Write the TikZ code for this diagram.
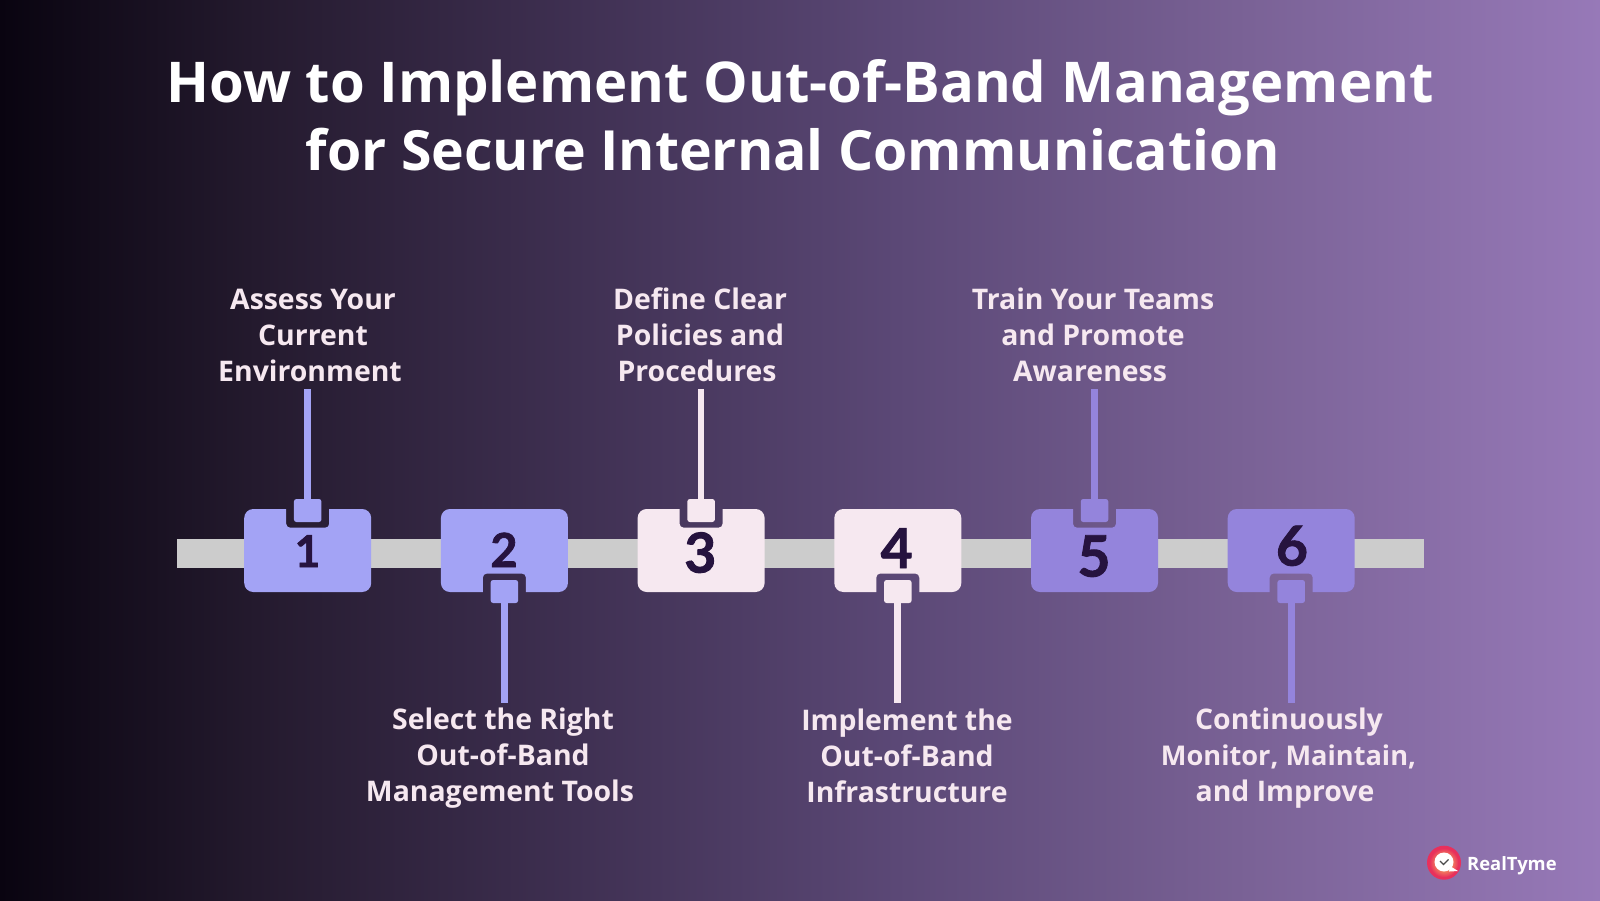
\documentclass[tikz,border=0pt]{standalone}
\usepackage{fontspec}
\setmainfont{Open Sans}
\newfontfamily\digitfont[BoldFeatures={FakeBold=1.6}]{Lato}
\usetikzlibrary{calc}
\definecolor{inkc}{HTML}{26133F}
\definecolor{barc}{HTML}{CCCCCC}
\definecolor{ca}{HTML}{A3A3F5}
\definecolor{cb}{HTML}{F6E8F0}
\definecolor{cc}{HTML}{9484DC}
\definecolor{logor}{HTML}{E8305C}
\definecolor{logoy}{HTML}{FFE060}
\definecolor{bg0}{HTML}{090410}
\definecolor{bg1}{HTML}{241A2E}
\definecolor{bg2}{HTML}{3F3052}
\definecolor{bg3}{HTML}{5B4876}
\definecolor{bg4}{HTML}{7A6296}
\definecolor{bg5}{HTML}{9779B8}
\pgfdeclarehorizontalshading{bgshade}{100bp}{color(0bp)=(bg0);color(25bp)=(bg0);color(33bp)=(bg1);color(43bp)=(bg2);color(53bp)=(bg3);color(64bp)=(bg4);color(75bp)=(bg5);color(100bp)=(bg5)}
\tikzset{
  titletext/.style={font=\bfseries\fontsize{56.2}{69}\selectfont,text=white,align=center,inner sep=0pt},
  labeltext/.style={font=\bfseries\fontsize{28.4}{36}\selectfont,text=cb,align=center,inner sep=0pt},
  digit/.style={text=inkc,inner sep=0pt,anchor=base},
  tag/.style={rectangle,rounded corners=2.5pt,minimum width=27.5pt,minimum height=23pt,inner sep=0pt},
  conn/.style={line width=6.7pt},
  bar/.style={fill=barc},
}
\newcommand{\digitsize}[1]{\digitfont\bfseries\fontsize{#1}{#1}\selectfont}
% #1 centre x, #2 colour
\newcommand{\boxnotchtop}[2]{%
  \fill[#2,rounded corners=9pt] (#1-63.5,550) -- (#1-63.5,509) [sharp corners] -- (#1-21.5,509)
   [rounded corners=4pt] -- (#1-21.5,527.7) -- (#1+21.5,527.7) [sharp corners] -- (#1+21.5,509)
   [rounded corners=9pt] -- (#1+63.5,509) -- (#1+63.5,592) -- (#1-63.5,592) -- cycle;}
\newcommand{\boxnotchbot}[2]{%
  \fill[#2,rounded corners=9pt] (#1-63.5,550) -- (#1-63.5,509) -- (#1+63.5,509) -- (#1+63.5,592) [sharp corners] -- (#1+21.5,592)
   [rounded corners=4pt] -- (#1+21.5,573.5) -- (#1-21.5,573.5) [sharp corners] -- (#1-21.5,592)
   [rounded corners=9pt] -- (#1-63.5,592) -- cycle;}
\begin{document}
\begin{tikzpicture}[x=1pt,y=-1pt]
\useasboundingbox (0,0) rectangle (1600,900);
\shade[shading=bgshade] (0,0) rectangle (1600,900);

\node[titletext,anchor=base] (t1) at (800,102) {How to Implement Out-of-Band Management};
\node[titletext,anchor=base,font=\bfseries\fontsize{55.4}{69}\selectfont] (t2) at (793,170) {for Secure Internal Communication};

\fill[bar] (176.7,539) rectangle (1424,567.5);

% boxes
\boxnotchtop{307.7}{ca}
\boxnotchbot{504.4}{ca}
\boxnotchtop{701.1}{cb}
\boxnotchbot{897.8}{cb}
\boxnotchtop{1094.5}{cc}
\boxnotchbot{1291.2}{cc}

% numbers
\node[digit,font=\digitsize{44}] (n1) at (307.5,567) {1};
\node[digit,font=\digitsize{47}] (n2) at (504,567) {2};
\node[digit,font=\digitsize{55}] (n3) at (700.3,572.5) {3};
\node[digit,font=\digitsize{55}] (n4) at (896.7,568) {4};
\node[digit,font=\digitsize{57}] (n5) at (1094,576.5) {5};
\node[digit,font=\digitsize{55}] (n6) at (1292,565.5) {6};

% tags
\node[tag,fill=ca] (s1) at (307.7,510.5) {};
\node[tag,fill=ca] (s2) at (504.4,591.5) {};
\node[tag,fill=cb] (s3) at (701.1,510.5) {};
\node[tag,fill=cb] (s4) at (897.8,591.5) {};
\node[tag,fill=cc] (s5) at (1094.5,510.5) {};
\node[tag,fill=cc] (s6) at (1291.2,591.5) {};

\coordinate (e1) at (307.7,389);
\coordinate (e2) at (504.4,703);
\coordinate (e3) at (701.1,389);
\coordinate (e4) at (897.8,703);
\coordinate (e5) at (1094.5,389);
\coordinate (e6) at (1291.2,703);
\draw[conn,ca] (s1) -- (e1);
\draw[conn,ca] (s2) -- (e2);
\draw[conn,cb] (s3) -- (e3);
\draw[conn,cb] (s4) -- (e4);
\draw[conn,cc] (s5) -- (e5);
\draw[conn,cc] (s6) -- (e6);

% labels
\node[labeltext] (l1) at (313,335.5) {Assess Your\\Current\\\hspace*{-6pt}Environment};
\node[labeltext] (l2) at (503,758.5) {Select the Right\\Out-of-Band\\\hspace*{-6pt}Management Tools};
\node[labeltext] (l3) at (700,335) {Define Clear\\Policies and\\\hspace*{-6pt}Procedures};
\node[labeltext] (l4) at (907,756) {Implement the\\Out-of-Band\\Infrastructure};
\node[labeltext] (l5) at (1093,335) {Train Your Teams\\and Promote\\\hspace*{-6pt}Awareness};
\node[labeltext] (l6) at (1289,758.5) {Continuously\\\hspace*{-1pt}{\fontsize{27.2}{36}\selectfont Monitor, Maintain,}\\\hspace*{-8pt}and Improve};

% logo
\fill[logor] (1444,862.7) circle (17);
\shade[inner color=logoy,outer color=logor] (1444,862.7) circle (14.5);
\fill[white] (1444,862) circle (9.5);
\fill[white] (1450,866) -- (1458,871) -- (1449,871.5) -- cycle;
\draw[black!70,line width=1.3pt] (1440,861) -- (1443.5,864.5) -- (1448.5,859.5);
\node[font=\bfseries\fontsize{18.4}{21}\selectfont,text=white,anchor=base west,inner sep=0pt] (logo) at (1467,870) {RealTyme};
\end{tikzpicture}
\end{document}
